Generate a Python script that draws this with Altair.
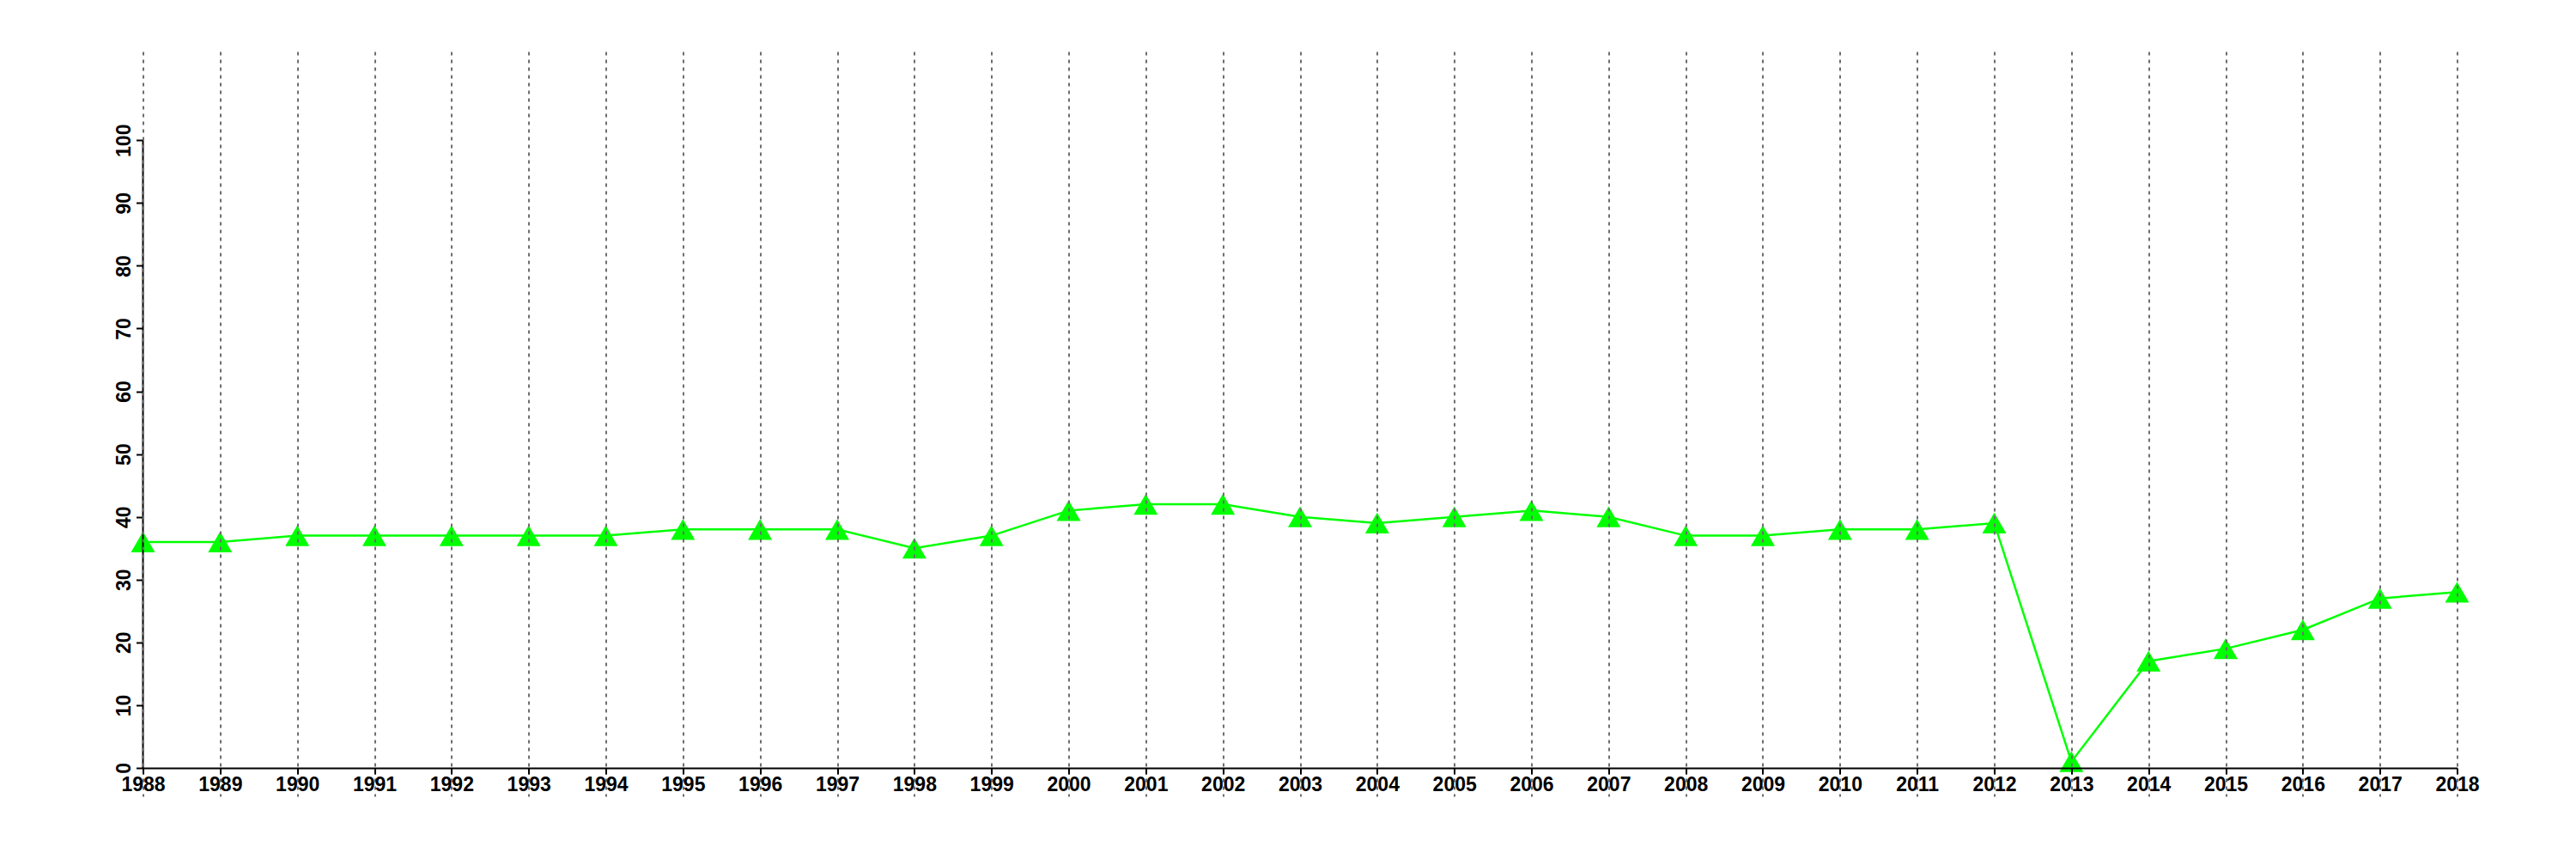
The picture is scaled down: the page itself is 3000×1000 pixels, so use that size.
import altair as alt
import pandas as pd

years = list(range(1988, 2019))
values = [36, 36, 37, 37, 37, 37, 37, 38, 38, 38, 35, 37, 41, 42, 42, 40, 39, 40,
          41, 40, 37, 37, 38, 38, 39, 1, 17, 19, 22, 27, 28]
y_ticks = list(range(0, 101, 10))

df = pd.DataFrame({"year": years, "value": values})

FONT = "Liberation Sans"
GREEN = "#00FF00"

xscale = alt.Scale(domain=[1988, 2018], nice=False, zero=False)
yscale = alt.Scale(domain=[-4.52, 114.13], nice=False, zero=False)

xaxis = alt.Axis(values=years, format="d", title=None, labelFont=FONT,
                 labelFontSize=23, labelFontWeight="bold", labelColor="black",
                 tickSize=7, tickWidth=2, tickColor="black",
                 domainColor="black", domainWidth=2, offset=-33,
                 grid=True, gridDash=[4, 5], gridColor="#6e6e6e", gridWidth=2,
                 labelPadding=1, labelOverlap=False, labelFlush=False, zindex=1)

yaxis = alt.Axis(values=y_ticks, title=None, domain=False, labelFont=FONT,
                 labelFontSize=23, labelFontWeight="bold", labelColor="black",
                 tickSize=8, tickWidth=2, tickColor="black", labelAngle=270,
                 labelAlign="center", labelBaseline="alphabetic", labelPadding=7,
                 grid=False, labelOverlap=False, labelFlush=False)

base = alt.Chart(df)

line = base.mark_line(color=GREEN, strokeWidth=2.5).encode(
    x=alt.X("year:Q", scale=xscale, axis=xaxis),
    y=alt.Y("value:Q", scale=yscale, axis=yaxis),
)

points = base.mark_point(shape="triangle-up", filled=True, size=784,
                         color=GREEN, opacity=1, strokeWidth=0).encode(
    x=alt.X("year:Q", scale=xscale),
    y=alt.Y("value:Q", scale=yscale),
)

yline = alt.Chart(pd.DataFrame({"x": [years[0]], "y0": [y_ticks[0]], "y1": [y_ticks[-1]]})).mark_rule(
    color="black", strokeWidth=2).encode(
    x=alt.X("x:Q", scale=xscale),
    y=alt.Y("y0:Q", scale=yscale),
    y2="y1:Q",
)

chart = alt.layer(line, points, yline).properties(
    width=2695, height=867,
    autosize=alt.AutoSizeParams(type="none"),
    padding={"left": 158.5, "top": 52, "right": 100, "bottom": 60},
).configure_view(stroke=None)

chart.save("out.html", embed_options={"renderer": "svg", "actions": False})
